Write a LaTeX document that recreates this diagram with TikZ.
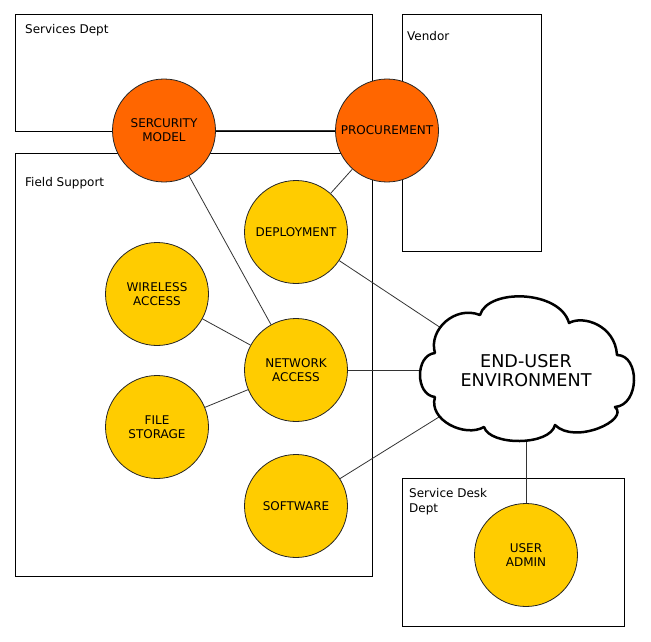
\documentclass[tikz,border=0pt]{standalone}
\usepackage{fontspec}
\setmainfont{DejaVu Sans}
\usetikzlibrary{backgrounds}
\definecolor{hotorange}{HTML}{FF6600}
\definecolor{warmyellow}{HTML}{FFCC00}
\definecolor{linkgray}{HTML}{333333}
\begin{document}
\begin{tikzpicture}[x=1pt,y=-1pt,
  deptbox/.style={draw=black, line width=1pt},
  deptlabel/.style={anchor=west, inner sep=0pt, align=left, font=\fontsize{12}{14.5}\selectfont},
  orb/.style={circle, draw=black!85, line width=0.8pt, minimum size=103pt, inner sep=0pt, align=center, font=\fontsize{12}{14}\selectfont},
  hotorb/.style={orb, fill=hotorange},
  warmorb/.style={orb, fill=warmyellow},
  link/.style={draw=linkgray, line width=0.8pt},
  cloudline/.style={draw=black, line width=2.5pt, fill=white, line join=round}]
\useasboundingbox (0,0) rectangle (651,642);

% department boxes
\begin{pgfonlayer}{background}
\draw[deptbox] (15,15) rectangle (372,131);
\draw[deptbox] (15,153) rectangle (372,576);
\draw[deptbox] (402,15) rectangle (541,251);
\draw[deptbox] (402,478) rectangle (624,626);
\end{pgfonlayer}
\node[deptlabel] (lsvc) at (25,30) {Services Dept};
\node[deptlabel] (lfield) at (25,183) {Field Support};
\node[deptlabel] (lvendor) at (407,36) {Vendor};
\node[deptlabel] (ldesk) at (409,501.5) {Service Desk\\Dept};

% circles
\node[hotorb] (sec) at (164,130.5) {SERCURITY\\MODEL};
\node[hotorb] (proc) at (387,130.5) {PROCUREMENT};
\node[warmorb] (dep) at (296,232) {DEPLOYMENT};
\node[warmorb] (wire) at (157,294) {WIRELESS\\ACCESS};
\node[warmorb] (net) at (296,370) {NETWORK\\ACCESS};
\node[warmorb] (file) at (157,427) {FILE\\STORAGE};
\node[warmorb] (soft) at (296,506) {SOFTWARE};
\node[warmorb] (uadm) at (526,555) {USER\\ADMIN};

% cloud attachment points
\coordinate (cd) at (441,328);
\coordinate (cn) at (424,370);
\coordinate (cs) at (439,417);
\coordinate (cu) at (526,436);

% connectors
\begin{pgfonlayer}{background}
\draw[link] (sec) -- (proc);
\draw[link] (sec) -- (net);
\draw[link] (proc) -- (dep);
\draw[link] (wire) -- (net);
\draw[link] (file) -- (net);
\draw[link] (dep) -- (cd);
\draw[link] (net) -- (cn);
\draw[link] (soft) -- (cs);
\draw[link] (uadm) -- (cu);
\end{pgfonlayer}

% cloud
\draw[cloudline] (480,315) .. controls (488,288) and (560,290) .. (569,323)
 .. controls (583,315) and (615,325) .. (617,355)
 .. controls (640,355) and (640,405) .. (615,407)
 .. controls (630,420) and (575,445) .. (555,425)
 .. controls (550,446) and (490,446) .. (484,427)
 .. controls (465,438) and (428,420) .. (435,397)
 .. controls (415,395) and (415,355) .. (435,353)
 .. controls (428,330) and (455,305) .. (480,315) -- cycle;
\node[align=center, inner sep=0pt, font=\fontsize{17.6}{19.5}\selectfont] (env) at (526,370.5) {END-USER\\ENVIRONMENT};
\end{tikzpicture}
\end{document}
